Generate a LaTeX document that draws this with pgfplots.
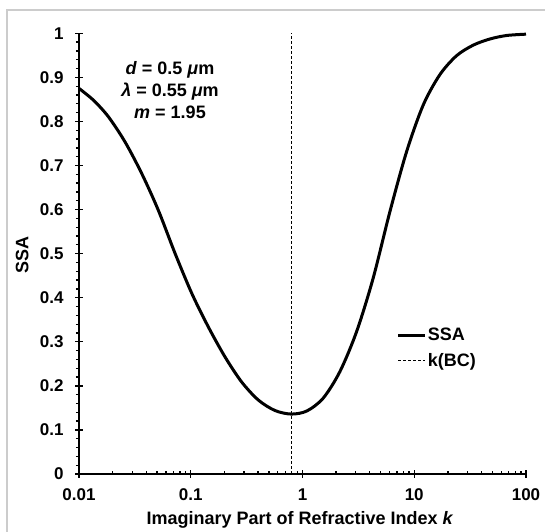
\documentclass[border=0pt]{standalone}
\usepackage{fontspec}
\setmainfont{Liberation Sans}
\usepackage{pgfplots}
\pgfplotsset{compat=1.18}
\definecolor{framegray}{HTML}{CCCCCC}

\newcommand{\tkl}{\fontsize{17bp}{20bp}\selectfont\bfseries}
\newcommand{\lbl}{\fontsize{18bp}{22bp}\selectfont\bfseries}

\pgfplotsset{shortline/.style={legend image code/.code={\draw[##1] (0bp,0bp) -- (27bp,0bp);}}}

\begin{document}
\begin{tikzpicture}
\path[use as bounding box] (0,0) rectangle (545bp,532bp);
\draw[framegray, line width=2bp] (7bp,0) -- (7bp,522bp) -- (545bp,522bp);
\begin{axis}[
  at={(79bp,58bp)}, anchor=south west,
  scale only axis, width=447bp, height=440.7bp,
  xmode=log, xmin=0.01, xmax=100, ymin=0, ymax=1,
  axis lines*=left,
  axis line style={line width=1.6bp},
  clip=false,
  xtick={0.01,0.1,1,10,100},
  xticklabels={0.01,0.1,1,10,100},
  minor xtick={0.02,0.03,0.04,0.05,0.06,0.07,0.08,0.09,
               0.2,0.3,0.4,0.5,0.6,0.7,0.8,0.9,
               2,3,4,5,6,7,8,9,
               20,30,40,50,60,70,80,90},
  ytick={0,0.1,0.2,0.3,0.4,0.5,0.6,0.7,0.8,0.9,1},
  yticklabels={0,0.1,0.2,0.3,0.4,0.5,0.6,0.7,0.8,0.9,1},
  minor y tick num=4,
  tick align=center,
  major tick length=8bp,
  minor tick length=3bp,
  tick style={black, line width=1.3bp},
  every minor x tick/.append style={yshift=1.5bp},
  every minor y tick/.append style={xshift=-1.5bp},
  ticklabel style={font=\tkl},
  xticklabel style={yshift=-7bp},
  yticklabel style={xshift=-8bp},
  xlabel={Imaginary Part of Refractive Index \textit{k}},
  ylabel={SSA},
  xlabel style={font=\lbl, at={(axis description cs:0.4945,-0.104)}, anchor=center},
  ylabel style={font=\lbl, at={(axis description cs:-0.127,0.497)}, anchor=center},
  legend style={draw=none, fill=none, inner sep=0pt, outer sep=0pt,
    at={(axis description cs:0.711,0.333)}, anchor=north west,
    font=\lbl, row sep=9bp, nodes={inner sep=1bp}},
  legend cell align=left,
]
\addplot[black, line width=3bp, smooth, shortline] coordinates {
  (0.01,0.875) (0.01349,0.848) (0.01828,0.811) (0.02576,0.754) (0.03639,0.682)
  (0.05117,0.599) (0.07228,0.501) (0.1021,0.410) (0.1435,0.334)
  (0.2023,0.266) (0.2851,0.209) (0.4018,0.168) (0.5675,0.144)
  (0.7943,0.136) (1.094,0.143) (1.531,0.172) (2.158,0.232)
  (3.048,0.323) (4.285,0.444) (6.053,0.595) (8.531,0.731)
  (12.02,0.837) (16.94,0.906) (23.88,0.949) (33.65,0.973)
  (47.42,0.987) (66.99,0.995) (100,0.998)
};
\addlegendentry{SSA}
\addplot[black, line width=0.8bp, dash pattern=on 3bp off 2bp, shortline] coordinates {(0.79,0) (0.79,1)};
\addlegendentry{k(BC)}
\node[align=center, font=\fontsize{18bp}{22bp}\selectfont\bfseries]
  at (axis description cs:0.2036,0.871)
  {\textit{d} = 0.5 \textit{μ}m\\ \textit{λ} = 0.55 \textit{μ}m\\ \textit{m} = 1.95};
\end{axis}
\end{tikzpicture}
\end{document}
